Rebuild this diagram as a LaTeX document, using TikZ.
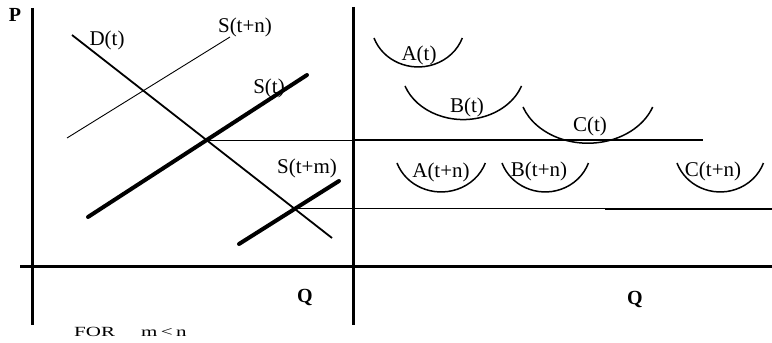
\documentclass[tikz,border=0pt]{standalone}
\usepackage{graphicx}
\usepackage{fontspec}
\setmainfont{Liberation Serif}
\usetikzlibrary{intersections}

\begin{document}
\begin{tikzpicture}[x=1pt, y=1pt,
  every node/.style={font=\fontsize{21}{24}\selectfont, inner sep=1pt},
  axlab/.style={font=\fontsize{20}{24}\selectfont\bfseries},
  axisline/.style={line width=3pt},
  dem/.style={line width=1.8pt},
  supthin/.style={line width=0.9pt},
  supbold/.style={line width=4pt, line cap=round},
  proj/.style={line width=0.9pt},
  projbold/.style={line width=2.6pt},
  bowl/.style={line width=1.5pt}]
\useasboundingbox (0,0) rectangle (772,343);
% axes
\coordinate (ltop) at (32,335); \coordinate (lbot) at (32,18);
\coordinate (mtop) at (353,336); \coordinate (mbot) at (353,18);
\coordinate (qleft) at (20,76); \coordinate (qright) at (772,76);
\coordinate (cut1) at (703,0); \coordinate (cut2) at (605,0);
\draw[axisline] (ltop) -- (lbot);
\draw[axisline] (mtop) -- (mbot);
\draw[axisline] (qleft) -- (qright);
\node[axlab] (p) at (15,328) {P};
\node[axlab] (q1) at (305,45) {Q};
\node[axlab] (q2) at (635,43) {Q};
\node[anchor=west, font=\fontsize{14}{16}\selectfont] (note) at (73,11)
  {\scalebox{1.5}[1]{FOR}\hspace{26pt}\scalebox{1.5}[1]{m\,<\,n}};
% demand and supply curves
\draw[dem, name path=dline] (72,308) coordinate (d0) -- (332,105) coordinate (d1);
\draw[supthin] (67,205) coordinate (sn0) -- (230,306) coordinate (sn1);
\draw[supbold, name path=sline] (88,126) coordinate (s0) -- (307,268) coordinate (s1);
\draw[supbold, name path=smline] (239,99) coordinate (sm0) -- (339,162) coordinate (sm1);
\node (dlab) at (107,303) {D(t)};
\node (snlab) at (245,316) {S(t+n)};
\node (slab) at (269,255) {S(t)};
\node (smlab) at (307,175) {S(t+m)};
% equilibria carried across
\path[name intersections={of=dline and sline, by=e1}];
\path[name intersections={of=dline and smline, by=e2}];
\draw[proj] (e1) -- (e1 -| mtop);
\draw[projbold] (e1 -| mtop) -- (e1 -| cut1);
\draw[proj] (e2) -- (e2 -| cut2);
\draw[projbold] (e2 -| cut2) -- (e2 -| qright);
% firms
\draw[bowl] (374,305) arc[start angle=200, end angle=340, x radius=47, y radius=44];
\node (at) at (419,288) {A(t)};
\draw[bowl] (405,257) arc[start angle=200, end angle=340, x radius=62, y radius=51];
\node (bt) at (467,236) {B(t)};
\draw[bowl] (523,236) arc[start angle=200, end angle=340, x radius=69, y radius=55];
\node (ct) at (590,217) {C(t)};
\draw[bowl] (397,180) arc[start angle=200, end angle=340, x radius=47, y radius=44];
\node (atn) at (441,171) {A(t+n)};
\draw[bowl] (502,180) arc[start angle=200, end angle=340, x radius=46, y radius=44];
\node (btn) at (539,172) {B(t+n)};
\draw[bowl] (677,180) arc[start angle=200, end angle=340, x radius=46, y radius=44];
\node (ctn) at (713,172) {C(t+n)};
\end{tikzpicture}
\end{document}
